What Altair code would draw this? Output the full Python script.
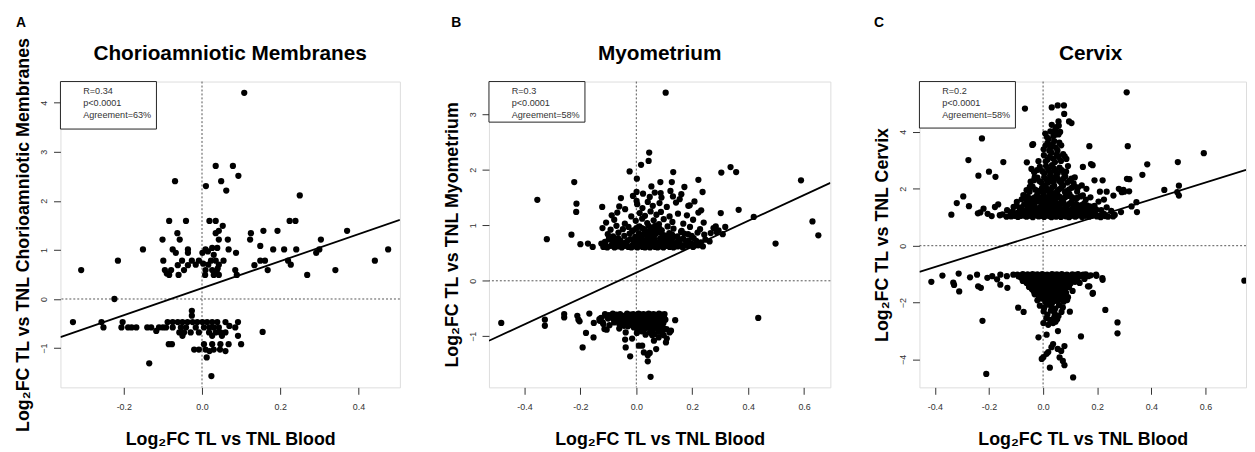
import altair as alt
import pandas as pd

FONT = "Liberation Sans"

# ---------------- Panel A: Chorioamniotic Membranes (x = blood log2FC, y = tissue log2FC)
A_UP = [(0.108,4.20),(-0.069,2.40),(0.035,2.71),(0.079,2.71),(0.093,2.51),(0.010,2.30),(0.049,2.40),(0.062,2.21),(0.250,2.11),
        (-0.084,1.59),(-0.041,1.59),(0.019,1.59),(0.035,1.59),(0.224,1.59),(0.239,1.59),
        (0.053,1.49),(0.043,1.39),(0.035,1.34),(-0.063,1.34),(0.125,1.34),(0.157,1.39),(0.193,1.39),(0.371,1.39),
        (-0.101,1.21),(-0.057,1.21),(0.043,1.21),(0.066,1.21),(0.123,1.21),(0.304,1.21),
        (-0.151,1.01),(-0.075,1.01),(-0.036,1.01),(0.009,1.01),(0.026,1.04),(0.039,1.04),(0.068,1.01),(0.087,0.94),(0.182,1.01),
        (0.210,1.01),(0.241,1.01),(0.300,1.01),(0.476,1.01),(0.149,1.08),
        (-0.067,0.94),(-0.036,0.94),(0.001,0.94),(0.292,0.94),(0.015,0.97),(0.030,0.90),
        (-0.215,0.78),(-0.099,0.78),(-0.051,0.78),(-0.026,0.78),(-0.008,0.78),(0.023,0.78),(0.035,0.78),(0.055,0.78),(0.149,0.78),
        (0.161,0.78),(0.220,0.78),(0.442,0.78),
        (-0.062,0.69),(-0.036,0.69),(-0.016,0.70),(0.016,0.70),(0.043,0.70),(0.134,0.69),(0.227,0.70),(0.003,0.72),
        (-0.309,0.59),(-0.095,0.59),(-0.079,0.59),(-0.046,0.59),(0.009,0.59),(0.026,0.59),(0.085,0.59),(0.168,0.59),(0.341,0.59),(0.040,0.62),
        (-0.084,0.49),(-0.060,0.49),(0.008,0.49),(0.030,0.49),(0.043,0.49),(0.089,0.49),(0.269,0.49),(-0.090,0.52),(0.038,0.53),
        (-0.224,0.00)]
A_DOWN = [(-0.330,-0.47),(-0.257,-0.47),(-0.252,-0.58),(-0.203,-0.47),(-0.206,-0.58),(-0.189,-0.58),(-0.168,-0.58),(-0.130,-0.58),
          (-0.117,-0.65),(-0.100,-0.58),(-0.088,-0.47),(-0.075,-0.47),(-0.062,-0.47),(-0.050,-0.47),(-0.037,-0.47),(-0.024,-0.47),
          (-0.012,-0.47),(0.001,-0.47),(0.013,-0.47),(0.026,-0.47),(0.039,-0.47),(0.060,-0.47),(0.092,-0.47),
          (-0.026,-0.24),(-0.026,-0.34),
          (-0.092,-0.58),(-0.075,-0.58),(-0.054,-0.58),(-0.041,-0.58),(-0.016,-0.58),(0.005,-0.58),(0.019,-0.58),(0.030,-0.58),
          (0.043,-0.58),(0.085,-0.58),
          (-0.058,-0.68),(-0.046,-0.68),(-0.029,-0.68),(-0.008,-0.68),(0.018,-0.68),(0.035,-0.68),(0.047,-0.68),(0.060,-0.68),(0.155,-0.67),
          (-0.050,-0.75),(0.026,-0.75),(0.051,-0.75),(0.092,-0.75),
          (-0.085,-0.92),(-0.077,-0.92),(0.005,-0.92),(0.026,-0.92),(0.047,-0.92),(0.068,-0.92),(0.100,-0.92),
          (-0.020,-1.03),(-0.008,-1.03),(0.009,-1.03),(0.030,-1.03),(0.046,-1.03),(0.060,-1.06),(0.019,-1.06),
          (-0.135,-1.31),(0.012,-1.19),(0.024,-1.57),(-0.110,-0.58),(-0.140,-0.58),(0.070,-0.55),(-0.180,-0.58)]

# ---------------- Panel B: Myometrium
B_UP = [(0.105,3.39),(0.046,2.31),(0.044,2.16),(0.017,2.09),(-0.024,1.97),(0.002,1.84),(0.132,1.96),(0.337,2.05),(0.357,1.96),
        (0.304,1.95),(-0.222,1.78),(0.589,1.81),(0.222,1.82),(0.086,1.78),(0.127,1.78),(-0.354,1.46),(-0.214,1.39),(-0.215,1.24),
        (-0.122,1.33),(-0.055,1.49),(-0.040,1.29),(0.001,1.60),(0.001,1.44),(0.054,1.70),(0.066,1.59),(0.090,1.50),(0.122,1.62),
        (0.172,1.69),(0.155,1.47),(0.208,1.43),(0.237,1.60),(0.186,1.35),(0.232,1.27),(0.366,1.28),(0.302,1.22),(0.420,1.15),
        (0.630,1.07),(0.651,0.82),(-0.320,0.75),(-0.232,0.83),(-0.200,0.66),(-0.173,0.67),(-0.156,0.61),(-0.125,0.67),(0.498,0.67),
        (-0.118,0.61),(-0.104,0.60),(-0.091,0.63),(-0.078,0.60),(-0.066,0.62),(-0.052,0.60),(-0.041,0.63),(-0.029,0.61),(-0.018,0.60),
        (-0.006,0.62),(0.004,0.60),(0.013,0.63),(0.022,0.61),(0.031,0.60),(0.041,0.62),(0.049,0.60),(0.058,0.63),(0.067,0.61),
        (0.076,0.60),(0.087,0.62),(0.097,0.60),(0.108,0.63),(0.119,0.61),(0.133,0.60),(0.148,0.62),(0.166,0.60),(0.184,0.63),
        (0.203,0.61),(0.221,0.64),(0.238,0.62),
        (-0.112,0.70),(-0.094,0.74),(-0.071,0.68),(-0.057,0.73),(-0.038,0.69),(-0.021,0.75),(-0.009,0.67),(0.008,0.71),(0.017,0.76),
        (0.027,0.68),(0.036,0.73),(0.046,0.67),(0.056,0.71),(0.064,0.75),(0.078,0.69),(0.093,0.73),(0.104,0.67),(0.121,0.71),
        (0.138,0.68),(0.157,0.74),(0.178,0.70),(0.196,0.67),(0.214,0.72),(0.231,0.69),(0.247,0.74),(0.262,0.71),(0.012,0.66),
        (0.071,0.66),(-0.047,0.66),
        (-0.102,0.84),(-0.083,0.80),(-0.064,0.87),(-0.043,0.81),(-0.024,0.85),(-0.004,0.79),(0.009,0.86),(0.019,0.81),(0.032,0.88),
        (0.043,0.79),(0.053,0.84),(0.061,0.80),(0.082,0.87),(0.101,0.82),(0.118,0.86),(0.147,0.80),(0.171,0.85),(0.198,0.81),
        (0.219,0.87),(0.243,0.83),(0.266,0.86),(0.287,0.88),(0.309,0.84),
        (-0.121,0.95),(-0.092,0.92),(-0.071,0.99),(-0.048,0.93),(-0.028,0.97),(-0.011,0.91),(0.011,0.98),(0.028,0.93),(0.044,0.99),
        (0.058,0.92),(0.073,0.96),(0.091,0.91),(0.112,0.98),(0.133,0.94),(0.162,0.90),(0.192,0.97),(0.228,0.93),(0.276,0.95),
        (0.294,0.91),(0.318,0.97),(0.284,0.98),
        (-0.108,1.05),(-0.079,1.10),(-0.041,1.03),(-0.002,1.08),(0.021,1.12),(0.039,1.04),(0.062,1.09),(0.081,1.02),(0.098,1.11),
        (0.129,1.06),(0.168,1.03),(0.203,1.10),(0.241,1.05),
        (-0.088,1.18),(-0.068,1.23),(-0.018,1.16),(0.012,1.22),(0.031,1.17),(0.051,1.25),(0.072,1.19),(0.088,1.24),(0.119,1.16),
        (0.149,1.21),(0.181,1.18),(0.222,1.23),
        (-0.061,1.34),(0.003,1.38),(0.022,1.31),(0.041,1.42),(0.059,1.35),(0.083,1.40),(0.109,1.33),(0.142,1.41),(0.191,1.36),
        (-0.012,1.53),(0.024,1.57),(0.048,1.51),(0.087,1.58),(0.131,1.52),(0.161,1.56),
        (-0.110,0.64),(-0.085,0.66),(-0.060,0.65),(-0.035,0.66),(-0.015,0.64),(0.000,0.66),(0.018,0.64),(0.027,0.64),(0.036,0.66),
        (0.045,0.64),(0.054,0.66),(0.063,0.64),(0.082,0.65),(0.091,0.64),(0.100,0.66),(0.114,0.65),(0.128,0.64),(0.142,0.66),
        (0.158,0.65),(0.175,0.64),(0.192,0.65),(0.211,0.64),
        (-0.098,0.76),(-0.080,0.72),(-0.065,0.77),(-0.030,0.73),(-0.002,0.74),(0.003,0.77),(0.022,0.74),(0.041,0.77),(0.050,0.74),
        (0.060,0.77),(0.085,0.76),(0.099,0.77),(0.112,0.74),(0.130,0.77),(0.148,0.71),(0.168,0.76),(0.187,0.73),(0.205,0.77),
        (0.025,0.83),(0.038,0.85),(0.047,0.90),(0.068,0.84),(0.076,0.90),(0.090,0.86),(0.110,0.80),(0.128,0.83),(0.160,0.88),
        (0.185,0.84),(-0.015,0.89),(0.000,0.95),(0.020,0.95),(0.052,0.96),(0.067,0.99),(0.083,0.94)]
B_DOWN = [(-0.483,-0.76),(-0.327,-0.70),(-0.327,-0.81),(-0.258,-0.60),(-0.258,-0.66),(-0.211,-0.63),(-0.207,-0.70),(-0.203,-0.73),
          (-0.168,-0.59),(-0.152,-0.76),(-0.180,-0.94),(-0.153,-1.02),(-0.192,-1.20),(0.139,-0.71),(0.436,-0.67),(-0.038,-1.20),
          (-0.022,-1.36),(0.009,-1.17),(0.021,-1.17),(0.027,-1.29),(0.041,-1.34),(0.048,-1.30),(0.041,-1.45),(0.051,-1.73),
          (0.071,-1.23),(0.106,-1.11),(0.109,-1.04),(0.119,-0.93),(0.124,-0.90),(-0.040,-1.06),(-0.015,-1.04),(0.063,-1.08),
          (0.080,-1.02),(0.057,-0.98),(0.092,-0.93),(-0.132,-0.69),(-0.120,-0.75),(-0.114,-0.87),(-0.106,-0.88),(-0.126,-0.67),
          (-0.090,-0.64),(-0.079,-0.75),(-0.061,-0.78),(-0.044,-0.81),(-0.038,-0.93),
          (-0.112,-0.60),(-0.098,-0.62),(-0.084,-0.59),(-0.071,-0.61),(-0.058,-0.60),(-0.046,-0.63),(-0.033,-0.59),(-0.021,-0.61),
          (-0.011,-0.60),(-0.002,-0.62),(0.008,-0.59),(0.017,-0.61),(0.026,-0.60),(0.035,-0.63),(0.044,-0.59),(0.053,-0.61),
          (0.062,-0.60),(0.071,-0.62),(0.081,-0.59),(0.091,-0.61),(0.101,-0.60),
          (-0.131,-0.72),(-0.101,-0.68),(-0.068,-0.71),(-0.049,-0.67),(-0.027,-0.70),(-0.012,-0.66),(0.003,-0.72),(0.013,-0.68),
          (0.022,-0.71),(0.031,-0.66),(0.039,-0.70),(0.048,-0.73),(0.057,-0.67),(0.066,-0.71),(0.074,-0.68),(0.083,-0.72),
          (0.094,-0.67),(0.104,-0.70),
          (-0.118,-0.78),(-0.096,-0.80),(-0.052,-0.76),(-0.019,-0.79),(-0.004,-0.75),(0.007,-0.81),(0.018,-0.77),(0.028,-0.80),
          (0.037,-0.76),(0.046,-0.79),(0.055,-0.75),(0.064,-0.81),(0.073,-0.77),(0.084,-0.80),(0.097,-0.76),
          (-0.061,-0.86),(-0.009,-0.84),(0.004,-0.88),(0.016,-0.83),(0.031,-0.87),(0.044,-0.84),(0.059,-0.89),(0.074,-0.85),
          (0.089,-0.83),(0.108,-0.87),
          (0.002,-0.94),(0.019,-0.91),(0.033,-0.97),(0.049,-0.93),(0.066,-0.96),(0.081,-0.92),(0.098,-0.98),
          (-0.105,-0.65),(-0.090,-0.66),(-0.077,-0.66),(-0.062,-0.64),(-0.040,-0.66),(-0.020,-0.65),(-0.006,-0.68),(0.008,-0.65),
          (0.018,-0.66),(0.027,-0.64),(0.040,-0.65),(0.049,-0.66),(0.060,-0.64),(0.070,-0.66),(0.079,-0.65),(0.089,-0.64),(0.099,-0.65),
          (-0.080,-0.70),(-0.058,-0.74),(-0.036,-0.75),(-0.010,-0.73),(0.009,-0.75),(0.027,-0.74),(0.044,-0.76),(0.062,-0.74),
          (0.079,-0.75),(0.090,-0.73),
          (-0.030,-0.82),(0.010,-0.80),(0.024,-0.84),(0.040,-0.82),(0.052,-0.86),(0.067,-0.83),(0.081,-0.86),(0.096,-0.85)]

# ---------------- Panel C: Cervix
C_UP = [(0.309,5.39),(-0.067,4.82),(0.032,4.86),(0.054,4.93),(0.077,4.93),(0.078,4.63),(0.057,4.37),(0.096,4.37),(0.105,4.31),
        (0.008,3.94),(0.045,4.08),(0.057,3.91),(-0.226,3.77),(-0.040,3.54),(0.171,3.50),(0.313,3.50),(0.594,3.25),(-0.276,3.01),
        (-0.147,2.94),(0.498,2.94),(0.385,2.86),(0.183,2.83),(-0.200,2.60),(-0.239,2.46),(-0.176,2.42),(0.367,2.49),(0.319,2.34),
        (0.448,1.96),(0.502,2.11),(0.502,1.76),(0.496,1.88),(-0.295,1.73),(-0.319,1.50),(-0.274,1.39),(-0.339,1.09),(-0.232,1.17),
        (-0.241,1.14),(-0.220,1.30),(-0.166,1.45),(-0.178,1.36),(-0.160,1.07),(0.345,1.53),(0.347,1.18),(0.327,1.38),(0.288,1.18),
        (0.259,1.03),(0.297,1.96),(0.318,1.91),(0.291,1.88),
        (0.147,2.77),(0.177,2.87),(0.117,2.40),(0.129,2.05),(0.190,2.30),(0.220,2.30),(0.210,1.90),(0.235,1.90),(0.260,1.76),
        (0.280,2.00),(0.300,1.90),(0.310,2.35),
        (-0.037,3.57),(-0.060,2.93),(-0.043,2.70),(-0.031,2.41),(-0.049,2.07),(-0.073,1.78),(-0.097,1.54),(-0.109,1.36),(-0.133,1.25),
        (-0.205,1.12),(-0.190,1.04),(-0.150,1.10),(-0.135,1.02),(-0.120,1.15),(-0.105,1.05),
        (0.205,1.05),(0.225,1.12),(0.240,1.02),(0.265,1.08),(0.215,1.25),(0.235,1.35),(0.252,1.22),(0.190,1.40),(0.205,1.55),
        (0.225,1.62),(0.175,1.70),(0.160,2.00),
        (-0.118,1.03),(-0.104,1.07),(-0.093,1.01),(-0.081,1.05),(-0.072,1.09),(-0.061,1.02),(-0.049,1.06),(-0.038,1.00),(-0.027,1.08),
        (-0.016,1.03),(-0.006,1.05),(0.004,1.01),(0.013,1.09),(0.022,1.04),(0.031,1.00),(0.039,1.07),(0.048,1.02),(0.057,1.06),
        (0.066,1.01),(0.075,1.08),(0.085,1.03),(0.096,1.00),(0.108,1.06),(0.119,1.02),(0.131,1.08),(0.144,1.01),(0.158,1.05),
        (0.171,1.02),(0.186,1.07),(0.199,1.03),(0.213,1.00),(0.229,1.04),
        (-0.112,1.21),(-0.094,1.15),(-0.079,1.27),(-0.064,1.18),(-0.051,1.24),(-0.036,1.14),(-0.024,1.29),(-0.012,1.19),(-0.001,1.25),
        (0.009,1.13),(0.019,1.22),(0.029,1.28),(0.038,1.16),(0.047,1.23),(0.058,1.14),(0.068,1.27),(0.079,1.19),(0.091,1.25),
        (0.104,1.15),(0.117,1.22),(0.133,1.17),(0.149,1.28),(0.166,1.20),(0.181,1.14),(0.198,1.26),
        (-0.098,1.41),(-0.081,1.35),(-0.062,1.49),(-0.045,1.38),(-0.028,1.53),(-0.014,1.33),(-0.003,1.45),(0.011,1.39),(0.023,1.51),
        (0.034,1.34),(0.045,1.46),(0.056,1.40),(0.069,1.54),(0.083,1.36),(0.097,1.47),(0.113,1.42),(0.131,1.35),(0.152,1.49),(0.173,1.38),
        (-0.079,1.63),(-0.058,1.74),(-0.041,1.60),(-0.022,1.79),(-0.008,1.66),(0.006,1.58),(0.018,1.72),(0.031,1.81),(0.042,1.64),
        (0.055,1.76),(0.068,1.61),(0.082,1.70),(0.098,1.80),(0.115,1.66),(0.138,1.73),(0.158,1.62),
        (-0.061,1.95),(-0.039,2.08),(-0.018,1.88),(-0.004,2.02),(0.009,2.13),(0.021,1.91),(0.034,2.05),(0.047,1.86),(0.061,1.99),
        (0.074,2.11),(0.089,1.93),(0.106,2.04),(0.126,1.90),(0.143,2.12),
        (-0.046,2.25),(-0.021,2.39),(-0.006,2.21),(0.012,2.33),(0.026,2.46),(0.039,2.24),(0.053,2.37),(0.067,2.20),(0.082,2.43),
        (0.097,2.28),(0.113,2.19),
        (-0.033,2.58),(-0.012,2.77),(0.004,2.55),(0.019,2.69),(0.033,2.83),(0.046,2.61),(0.061,2.74),(0.078,2.53),(0.092,2.80),
        (-0.017,2.97),(0.003,3.18),(0.017,3.03),(0.031,3.27),(0.044,2.94),(0.058,3.12),(0.074,3.22),(0.086,3.05),
        (0.002,3.39),(0.016,3.61),(0.029,3.46),(0.041,3.68),(0.053,3.35),(0.067,3.53),
        (0.014,3.82),(0.027,4.02),(0.038,3.86),(0.049,4.17),(0.063,4.00),
        (-0.110,1.09),(-0.099,1.12),(-0.087,1.06),(-0.076,1.13),(-0.066,1.04),(-0.054,1.11),(-0.043,1.04),(-0.032,1.12),(-0.021,1.06),
        (-0.010,1.10),(0.000,1.04),(0.008,1.06),(0.017,1.12),(0.026,1.07),(0.035,1.11),(0.044,1.05),(0.052,1.10),(0.062,1.04),
        (0.071,1.12),(0.080,1.06),(0.090,1.10),(0.101,1.04),(0.113,1.11),(0.125,1.05),(0.137,1.12),(0.151,1.08),(0.165,1.11),
        (0.179,1.05),(0.193,1.10),(0.221,1.08),
        (-0.087,1.31),(-0.071,1.22),(-0.057,1.31),(-0.043,1.21),(-0.030,1.35),(-0.018,1.24),(-0.006,1.32),(0.004,1.20),(0.014,1.30),
        (0.024,1.19),(0.034,1.25),(0.043,1.33),(0.053,1.20),(0.063,1.31),(0.074,1.23),(0.086,1.32),(0.098,1.21),(0.110,1.30),
        (0.125,1.24),(0.141,1.21),(0.158,1.33),(0.174,1.26),(0.190,1.32),
        (-0.070,1.44),(-0.053,1.55),(-0.036,1.44),(-0.020,1.58),(-0.008,1.50),(0.005,1.43),(0.017,1.56),(0.029,1.42),(0.040,1.57),
        (0.051,1.49),(0.063,1.44),(0.076,1.50),(0.090,1.41),(0.105,1.54),(0.122,1.47),(0.141,1.43),(0.162,1.42),
        (-0.068,1.68),(-0.049,1.66),(-0.031,1.70),(-0.015,1.62),(0.000,1.75),(0.012,1.65),(0.025,1.62),(0.037,1.74),(0.049,1.68),
        (0.062,1.72),(0.075,1.65),(0.090,1.75),(0.106,1.71),(0.126,1.68),(0.147,1.77),
        (-0.050,1.90),(-0.029,1.97),(-0.011,1.94),(0.003,1.87),(0.015,2.00),(0.028,1.95),(0.041,2.10),(0.054,1.93),(0.068,2.04),
        (0.081,1.88),(0.097,1.98),(0.116,2.08),
        (-0.034,2.30),(-0.014,2.27),(0.004,2.40),(0.019,2.22),(0.033,2.34),(0.046,2.43),(0.060,2.27),(0.074,2.35),(0.090,2.22),(0.105,2.36),
        (-0.022,2.66),(-0.003,2.62),(0.011,2.80),(0.026,2.57),(0.040,2.72),(0.054,2.55),(0.069,2.66),(0.085,2.60),
        (0.010,2.96),(0.024,3.12),(0.038,3.06),(0.051,3.21),(0.066,2.98),(0.080,3.14),
        (0.009,3.52),(0.023,3.34),(0.035,3.56),(0.047,3.45),(0.060,3.62),(0.021,3.75),(0.044,3.90),(0.032,4.25),(0.058,4.22)]
C_DOWN = [(-0.413,-1.27),(-0.372,-1.05),(-0.332,-1.30),(-0.329,-1.38),(-0.312,-0.98),(-0.310,-1.61),(-0.270,-1.11),(-0.244,-1.02),
          (-0.240,-1.43),(-0.230,-1.48),(-0.224,-2.64),(-0.210,-4.51),(-0.206,-1.13),(-0.188,-1.07),(-0.170,-1.18),(-0.158,-1.02),
          (-0.158,-1.37),(-0.134,-1.07),(-0.132,-1.48),(-0.110,-1.02),(-0.092,-2.18),(-0.072,-2.33),
          (0.148,-1.02),(0.166,-1.43),(0.184,-1.66),(0.196,-1.02),(0.220,-1.20),(0.230,-2.26),(0.275,-2.70),(0.275,-3.08),
          (0.140,-3.19),(0.099,-2.32),(0.079,-3.53),(0.067,-3.70),(0.061,-3.93),(0.073,-4.05),(0.079,-4.20),(0.037,-3.46),
          (0.031,-3.57),(0.013,-3.80),(0.001,-3.92),(-0.005,-3.98),(0.019,-3.74),(0.025,-4.29),(0.111,-4.63),(-0.017,-3.22),
          (0.013,-3.13),(0.001,-2.72),(0.019,-2.78),(0.037,-2.72),(0.055,-3.00),(0.046,-2.67),(0.744,-1.23),(0.153,-1.17),
          (0.171,-1.43),(0.135,-1.31),(0.183,-1.69),(0.219,-1.14),(0.197,-1.06),(0.054,-3.63),
          (-0.095,-1.02),(-0.085,-1.05),(-0.075,-1.00),(-0.066,-1.04),(-0.057,-1.01),(-0.048,-1.06),(-0.039,-1.00),(-0.030,-1.03),
          (-0.021,-1.01),(-0.012,-1.05),(-0.003,-1.00),(0.006,-1.04),(0.015,-1.02),(0.024,-1.06),(0.033,-1.00),(0.042,-1.03),
          (0.051,-1.01),(0.060,-1.05),(0.069,-1.00),(0.078,-1.04),(0.088,-1.02),(0.098,-1.06),(0.108,-1.01),(0.118,-1.03),
          (0.129,-1.00),(0.141,-1.05),(0.158,-1.01),(0.176,-1.04),
          (-0.082,-1.12),(-0.069,-1.18),(-0.056,-1.10),(-0.044,-1.21),(-0.031,-1.14),(-0.019,-1.09),(-0.008,-1.19),(0.003,-1.12),
          (0.014,-1.22),(0.025,-1.15),(0.036,-1.09),(0.046,-1.18),(0.057,-1.11),(0.068,-1.21),(0.079,-1.13),(0.091,-1.19),
          (0.103,-1.10),(0.116,-1.17),(0.129,-1.12),
          (-0.061,-1.31),(-0.046,-1.38),(-0.031,-1.27),(-0.018,-1.41),(-0.006,-1.33),(0.007,-1.26),(0.018,-1.39),(0.029,-1.30),
          (0.041,-1.42),(0.052,-1.28),(0.063,-1.36),(0.075,-1.25),(0.088,-1.40),(0.102,-1.32),(0.118,-1.27),
          (-0.042,-1.52),(-0.027,-1.46),(-0.013,-1.58),(0.001,-1.49),(0.014,-1.61),(0.026,-1.47),(0.038,-1.55),(0.051,-1.62),
          (0.064,-1.50),(0.079,-1.57),(0.095,-1.46),(0.109,-1.59),
          (-0.031,-1.71),(-0.016,-1.79),(-0.002,-1.67),(0.011,-1.76),(0.024,-1.82),(0.037,-1.69),(0.049,-1.78),(0.063,-1.66),
          (0.077,-1.74),(0.092,-1.81),
          (-0.021,-1.92),(-0.006,-1.86),(0.008,-1.98),(0.021,-1.89),(0.034,-2.01),(0.047,-1.94),(0.061,-1.87),(0.076,-1.97),(0.089,-1.91),
          (-0.012,-2.11),(0.004,-2.19),(0.017,-2.07),(0.031,-2.15),(0.045,-2.21),(0.059,-2.09),(0.073,-2.17),
          (0.002,-2.31),(0.016,-2.42),(0.029,-2.28),(0.043,-2.38),(0.057,-2.47),(0.068,-2.33),
          (0.012,-2.55),(0.026,-2.61),(0.041,-2.52),(0.052,-2.59),
          (-0.090,-1.08),(-0.078,-1.09),(-0.062,-1.07),(-0.050,-1.12),(-0.036,-1.07),(-0.025,-1.11),(-0.014,-1.07),(-0.003,-1.09),
          (0.008,-1.08),(0.019,-1.10),(0.030,-1.07),(0.041,-1.12),(0.052,-1.07),(0.063,-1.10),(0.074,-1.07),(0.085,-1.09),
          (0.096,-1.13),(0.110,-1.08),(0.123,-1.09),(0.135,-1.07),(0.150,-1.10),(0.167,-1.07),
          (-0.075,-1.24),(-0.062,-1.22),(-0.050,-1.29),(-0.038,-1.22),(-0.025,-1.33),(-0.013,-1.25),(-0.002,-1.22),(0.009,-1.31),
          (0.020,-1.24),(0.031,-1.21),(0.042,-1.32),(0.053,-1.23),(0.064,-1.27),(0.076,-1.18),(0.087,-1.27),(0.099,-1.23),(0.111,-1.21),
          (-0.052,-1.45),(-0.037,-1.42),(-0.024,-1.52),(-0.011,-1.44),(0.002,-1.38),(0.013,-1.47),(0.024,-1.55),(0.035,-1.45),
          (0.047,-1.38),(0.058,-1.48),(0.070,-1.44),(0.083,-1.50),(0.097,-1.38),
          (-0.035,-1.60),(-0.020,-1.65),(-0.006,-1.57),(0.008,-1.68),(0.020,-1.58),(0.032,-1.63),(0.045,-1.56),(0.057,-1.70),
          (0.070,-1.61),(0.085,-1.66),
          (-0.010,-1.80),(0.004,-1.86),(0.017,-1.73),(0.030,-1.88),(0.043,-1.82),(0.056,-1.93),(0.070,-1.80),(0.083,-1.86)]

# fitted line (intercept, slope)
FIT = {"A": (0.22, 2.75), "B": (0.147, 2.33), "C": (0.44, 2.97)}
STATS = {"A": "R=0.34\np<0.0001\nAgreement=63%",
         "B": "R=0.3\np<0.0001\nAgreement=58%",
         "C": "R=0.2\np<0.0001\nAgreement=58%"}
TITLES = {"A": "Chorioamniotic Membranes", "B": "Myometrium", "C": "Cervix"}
XTICKS = {"A": [-0.2, 0.0, 0.2, 0.4], "B": [-0.4, -0.2, 0.0, 0.2, 0.4, 0.6], "C": [-0.4, -0.2, 0.0, 0.2, 0.4, 0.6]}
YTICKS = {"A": [-1, 0, 1, 2, 3, 4], "B": [-1, 0, 1, 2, 3], "C": [-4, -2, 0, 2, 4]}
XDOM = {"A": [-0.362, 0.506], "B": [-0.527, 0.694], "C": [-0.457, 0.750]}
YDOM = {"A": [-1.80, 4.43], "B": [-1.92, 3.59], "C": [-4.98, 5.77]}
XLABEL = "Log\u2082FC TL vs TNL Blood"


def panel(key, pts, width, height, letter_x, title_x, box_h, clip_pts=False):
    df = pd.DataFrame(pts, columns=["blood", "tissue"])
    xenc = alt.X("blood:Q",
                 scale=alt.Scale(domain=XDOM[key], nice=False, zero=False),
                 axis=alt.Axis(values=XTICKS[key], title=XLABEL,
                               labelExpr="replace(format(datum.value, '.1f'), '\u2212', '-')",
                               tickSize=7, labelPadding=8, labelFontSize=9, labelFont=FONT,
                               labelColor="#333", tickColor="#333", domain=False, grid=False,
                               minExtent=25, maxExtent=25, titlePadding=19, titleFontSize=18,
                               titleFont=FONT, titleFontWeight="bold", titleColor="black"))
    yenc = alt.Y("tissue:Q",
                 scale=alt.Scale(domain=YDOM[key], nice=False, zero=False),
                 axis=alt.Axis(values=YTICKS[key], title="Log\u2082FC TL vs TNL " + TITLES[key],
                               format="d", labelAngle=270, labelAlign="center", labelBaseline="bottom",
                               tickSize=7, labelPadding=5, labelFontSize=9, labelFont=FONT,
                               labelColor="#333", tickColor="#333", domain=False, grid=False,
                               minExtent=22, maxExtent=22, titlePadding=6, titleFontSize=18,
                               titleFont=FONT, titleFontWeight="bold", titleColor="black"))

    pts_layer = alt.Chart(df).mark_circle(size=40, color="black", opacity=1, clip=clip_pts).encode(x=xenc, y=yenc)

    vline = alt.Chart(pd.DataFrame({"blood": [0.0]})).mark_rule(
        color="#555", strokeDash=[2, 2], strokeWidth=1).encode(x=xenc)
    hline = alt.Chart(pd.DataFrame({"tissue": [0.0]})).mark_rule(
        color="#555", strokeDash=[2, 2], strokeWidth=1).encode(y=yenc)

    a, b = FIT[key]
    xs = XDOM[key]
    fit_df = pd.DataFrame({"blood": xs, "tissue": [a + b * v for v in xs]})
    fit_layer = alt.Chart(fit_df).mark_line(color="black", strokeWidth=1.8, clip=True).encode(x=xenc, y=yenc)

    one = pd.DataFrame({"k": [0]})
    box = alt.Chart(one).mark_rect(fill="white", stroke="#222", strokeWidth=1).encode(
        x=alt.value(0), x2=alt.value(97), y=alt.value(0), y2=alt.value(box_h))
    stats = alt.Chart(one).mark_text(align="left", baseline="top", fontSize=9.2, font=FONT,
                                     color="#333", lineBreak="\n", lineHeight=12).encode(
        x=alt.value(23), y=alt.value(6), text=alt.value(STATS[key]))
    title = alt.Chart(one).mark_text(align="center", baseline="alphabetic", fontSize=21, font=FONT,
                                     fontWeight="bold", color="black").encode(
        x=alt.value(title_x), y=alt.value(-22), text=alt.value(TITLES[key]))
    letter = alt.Chart(one).mark_text(align="left", baseline="alphabetic", fontSize=14, font=FONT,
                                      fontWeight="bold", color="black").encode(
        x=alt.value(letter_x), y=alt.value(-55), text=alt.value(key))

    return alt.layer(vline, hline, fit_layer, pts_layer, box, stats, title, letter).properties(
        width=width, height=height)


pa = panel("A", A_UP + A_DOWN, 343, 309, -45, 171.5, 48)
pb = panel("B", B_UP + B_DOWN, 345, 309, -38, 172.5, 41)
pc = panel("C", C_UP + C_DOWN, 330, 309, -46, 173, 47, clip_pts=True)

chart = alt.hconcat(pa, pb, pc, spacing=42).properties(
    padding={"left": 6, "top": 5, "right": 0, "bottom": 0}
).configure_view(stroke="#222", strokeWidth=1).configure(background="white")

chart.save("out.html", embed_options={"renderer": "svg", "actions": False})
